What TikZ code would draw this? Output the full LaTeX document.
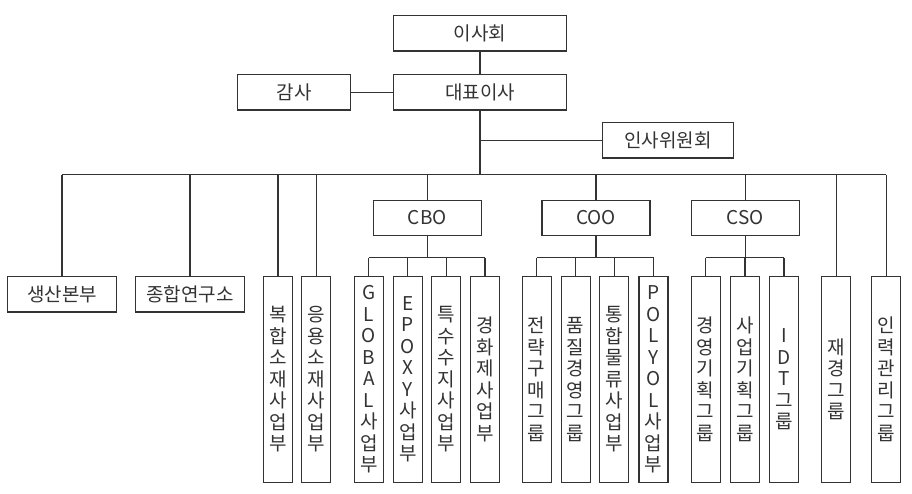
\documentclass[tikz,border=0pt]{standalone}
\usepackage{fontspec}
\newfontfamily\kr{Noto Sans CJK KR}
\definecolor{ink}{HTML}{333333}
\begin{document}
\begin{tikzpicture}[x=1pt,y=-1pt,
  box/.style={draw=ink,line width=1.2pt,inner sep=0pt,text=ink,font=\kr\fontsize{19}{21.5}\selectfont,minimum height=35.3pt},
  tall/.style={box,minimum width=29pt,minimum height=205.6pt,align=center},
  ln/.style={draw=ink,line width=1.2pt}]
\useasboundingbox[fill=white] (0,0) rectangle (912,493);
\node[box,minimum width=173.4pt] (isahoe) at (480,33.3) {이사회};
\node[box,minimum width=173.4pt] (daepyo) at (480,92.3) {대표이사};
\node[box,minimum width=113.4pt] (gamsa) at (294,92.3) {감사};
\node[box,minimum width=131pt] (insawi) at (667.8,140.3) {인사위원회};
\coordinate (bus) at (480,174.5);
\coordinate (sub) at (480,257.7);
\node[box,minimum width=108.6pt] (saengsan) at (62,294.3) {생산본부};
\node[box,minimum width=108.4pt] (jonghap) at (190,294.3) {종합연구소};
\node[box,minimum width=108pt] (cbo) at (427.3,217.8) {CBO};
\node[box,minimum width=108pt] (coo) at (596,217.8) {COO};
\node[box,minimum width=108pt] (cso) at (745.3,217.8) {CSO};
\node[tall] (bokhap) at (278,379.5) {복\\합\\소\\재\\사\\업\\부};
\node[tall] (eungyong) at (316.3,379.5) {응\\용\\소\\재\\사\\업\\부};
\node[tall] (global) at (368.8,379.5) {G\\L\\O\\B\\A\\L\\사\\업\\부};
\node[tall] (epoxy) at (407.8,379.5) {E\\P\\O\\X\\Y\\사\\업\\부};
\node[tall] (teuksu) at (446.3,379.5) {특\\수\\수\\지\\사\\업\\부};
\node[tall] (gyeonghwa) at (485,379.5) {경\\화\\제\\사\\업\\부};
\node[tall] (jeollyak) at (536.7,379.5) {전\\략\\구\\매\\그\\룹};
\node[tall] (pumjil) at (575.7,379.5) {품\\질\\경\\영\\그\\룹};
\node[tall] (tonghap) at (614.3,379.5) {통\\합\\물\\류\\사\\업\\부};
\node[tall] (polyol) at (653.5,379.5) {P\\O\\L\\Y\\O\\L\\사\\업\\부};
\node[tall] (gyeongyeong) at (705.7,379.5) {경\\영\\기\\획\\그\\룹};
\node[tall] (saeop) at (745,379.5) {사\\업\\기\\획\\그\\룹};
\node[tall] (idt) at (784,379.5) {I\\D\\T\\그\\룹};
\node[tall] (jaegyeong) at (836.3,379.5) {재\\경\\그\\룹};
\node[tall] (inryeok) at (886.2,379.5) {인\\력\\관\\리\\그\\룹};
% top connectors
\draw[ln] (isahoe.south) -- (daepyo.north);
\draw[ln] (gamsa.east) -- (daepyo.west);
\draw[ln] (daepyo.south) -- (daepyo.south |- bus);
\draw[ln] (daepyo.south |- insawi.west) -- (insawi.west);
% main bus
\draw[ln] (saengsan.north |- bus) -- (inryeok.north |- bus);
\foreach \n in {saengsan,jonghap,bokhap,eungyong,cbo,coo,cso,jaegyeong,inryeok}
  \draw[ln] (\n.north |- bus) -- (\n.north);
% sub buses
\draw[ln] (cbo.south) -- (cbo.south |- sub);
\draw[ln] (global.north |- sub) -- (gyeonghwa.north |- sub);
\foreach \n in {global,epoxy,teuksu,gyeonghwa}
  \draw[ln] (\n.north |- sub) -- (\n.north);
\draw[ln] (coo.south) -- (coo.south |- sub);
\draw[ln] (jeollyak.north |- sub) -- (polyol.north |- sub);
\foreach \n in {jeollyak,pumjil,tonghap,polyol}
  \draw[ln] (\n.north |- sub) -- (\n.north);
\draw[ln] (cso.south) -- (cso.south |- sub);
\draw[ln] (gyeongyeong.north |- sub) -- (idt.north |- sub);
\foreach \n in {gyeongyeong,saeop,idt}
  \draw[ln] (\n.north |- sub) -- (\n.north);
\end{tikzpicture}
\end{document}
